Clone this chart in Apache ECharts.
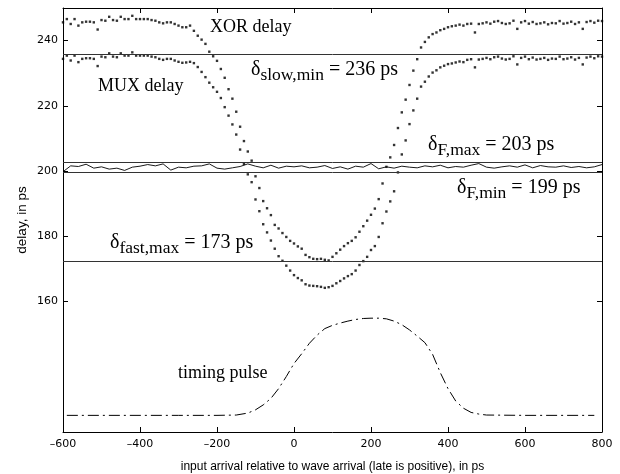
<!DOCTYPE html>
<html>
<head>
<meta charset="utf-8">
<script src="https://cdn.jsdelivr.net/npm/echarts@6/dist/echarts.min.js"></script>
<style>html,body{margin:0;padding:0;background:#fff}#c{width:620px;height:474px}</style>
</head>
<body>
<div id="c"></div>
<script>
// ---- data ----
const xTicks = [-600, -400, -200, 0, 200, 400, 600, 800];
const yTicks = [160, 180, 200, 220, 240];
// delay samples: x grid starts at -600 ps, every 10 ps, up to 800 ps
const sampleStart = -600, sampleStep = 10;
const xorDelay = [
  245.6,246.6,245.1,246.6,244.6,245.6,245.8,245.8,245.6,243.4,
  246.3,246.1,247.3,246.3,246.1,247.3,246.6,246.6,247.6,246.6,
  246.6,246.6,246.6,246.3,246.1,245.6,245.3,245.6,245.6,245.1,
  244.6,244.1,244.1,244.6,243.0,241.5,
  240.3,239.0,236.6,235.2,233.8,231.3,228.6,225.1,222.2,218.2,
  213.6,209.2,206.0,203.2,198.4,194.8,190.8,188.6,186.5,183.5,
  182.4,181.0,179.8,178.6,177.8,176.9,176.2,174.3,173.6,173.1,
  173.0,173.1,172.8,172.6,173.7,174.8,175.9,177.0,177.9,178.6,
  179.7,181.4,183.1,184.8,186.6,188.5,191.4,196.2,201.3,204.2,
  208.0,213.2,218.0,221.9,226.4,230.8,234.3,237.9,239.6,241.0,
  242.0,242.5,243.2,243.6,
  244.1,244.4,244.6,244.9,244.6,245.1,245.2,242.5,245.1,245.3,
  245.6,245.2,245.8,246.0,245.4,245.1,245.3,246.1,243.6,245.6,
  246.0,245.2,245.7,245.1,245.3,245.6,245.0,245.4,245.3,246.0,
  245.2,245.4,245.8,245.1,245.6,243.6,245.7,246.0,245.5,246.1,
  246.0
];
const muxDelay = [
  234.4,235.4,233.9,235.4,233.4,234.4,234.6,234.6,234.4,232.2,
  235.1,234.9,236.1,235.1,234.9,236.1,235.4,235.4,236.4,235.4,
  235.4,235.4,235.4,235.1,234.9,234.4,234.1,234.4,234.4,233.9,
  233.5,233.2,233.3,233.5,233.1,231.9,230.4,228.8,227.1,225.7,
  224.3,222.4,219.6,217.0,214.3,211.2,206.6,202.2,199.0,196.6,
  191.3,187.7,183.7,181.2,178.7,176.2,173.9,172.5,171.0,169.5,
  168.1,167.2,166.5,165.3,164.9,164.8,164.7,164.5,164.2,164.4,
  164.8,165.6,166.3,167.1,167.8,168.4,169.5,171.2,172.4,173.7,
  175.8,177.0,179.8,184.0,187.6,190.7,193.8,199.6,205.1,209.4,
  214.4,218.6,222.2,225.9,227.4,229.0,230.2,230.9,231.8,232.3,
  232.8,233.0,233.3,233.6,233.4,234.1,234.3,231.8,234.2,234.4,
  234.7,234.3,234.9,235.1,234.5,234.2,234.4,235.2,232.7,234.7,
  235.1,234.3,234.8,234.2,234.4,234.7,234.1,234.5,234.4,235.1,
  234.3,234.5,234.9,234.2,234.7,232.7,234.8,235.1,234.6,235.2,
  235.1
];
// F delay trace: from -600 ps every 20 ps
const fStart = -600, fStep = 20;
const fDelay = [
  199.8,201.6,201.4,202.1,200.9,201.3,200.6,200.9,200.2,201.2,
  201.5,202.0,201.6,202.2,200.3,201.2,201.0,201.5,201.6,202.2,
  200.9,200.6,201.0,201.4,202.2,201.5,201.0,201.8,200.9,201.5,
  201.3,201.6,201.0,201.2,201.7,200.8,201.3,200.6,201.5,201.2,
  202.3,200.7,201.3,200.9,201.5,201.2,201.0,201.6,201.3,201.8,
  201.0,201.4,201.2,201.8,202.3,201.2,200.9,201.3,201.6,201.2,
  201.9,201.0,201.7,201.3,201.2,201.6,201.1,201.4,201.0,201.3,
  202.0
];
// timing pulse (x in ps, y in axis units)
const pulseX = [-590,-500,-400,-300,-200,-150,-120,-100,-80,-60,-40,-20,0,20,40,60,80,100,120,140,160,180,200,220,240,260,280,300,320,340,360,380,400,420,440,460,480,500,600,700,780];
const pulseY = [125.1,125.1,125.1,125.1,125.1,125.2,125.8,126.8,128.3,130.3,133.3,137.0,141.0,144.0,147.2,149.7,151.7,152.7,153.4,154.0,154.5,154.8,154.9,154.9,154.7,154.0,152.9,151.3,149.4,147.4,143.8,138.2,133.3,129.5,127.3,126.0,125.5,125.2,125.1,125.1,125.1];
// threshold lines (as drawn)
const thresholds = [235.9, 202.6, 199.6, 172.3];

// ---- build ----
const xorPts = xorDelay.map((v, i) => [sampleStart + i * sampleStep, v]);
const muxPts = muxDelay.map((v, i) => [sampleStart + i * sampleStep, v]);
const fPts = fDelay.map((v, i) => [fStart + i * fStep, v]);
const pulsePts = pulseX.map((x, i) => [x, pulseY[i]]);

const serif = 'Liberation Serif';
const sans = 'DejaVu Sans';
function mathLabel(x, y, sym, sub, rest) {
  return {
    type: 'text', x: x, y: y, silent: true,
    style: {
      text: '{m|' + sym + '}{s|' + sub + '}{m|' + rest + '}',
      verticalAlign: 'top', align: 'left', fill: '#000',
      rich: {
        m: { fontFamily: serif, fontSize: 20, verticalAlign: 'top', fill: '#000' },
        s: { fontFamily: serif, fontSize: 17.5, verticalAlign: 'top', padding: [7, 0, 0, 0], fill: '#000' }
      }
    }
  };
}
function plainLabel(x, y, text) {
  return {
    type: 'text', x: x, y: y, silent: true,
    style: { text: text, fontFamily: serif, fontSize: 18, fill: '#000', verticalAlign: 'middle', align: 'left' }
  };
}

const axisLineStyle = { color: '#000', width: 1 };
const chart = echarts.init(document.getElementById('c'), null, { renderer: 'canvas' });
chart.setOption({
  animation: false,
  backgroundColor: '#fff',
  grid: { left: 63, right: 18, top: 8, bottom: 42, containLabel: false, outerBoundsMode: 'none' },
  xAxis: [{
    type: 'value', min: -600, max: 800, interval: 200,
    axisLine: { onZero: false, lineStyle: axisLineStyle },
    axisTick: { inside: true, length: 5, lineStyle: axisLineStyle },
    axisLabel: { color: '#000', fontFamily: sans, fontSize: 11, margin: 7,
      formatter: v => (v < 0 ? '\u2013' + Math.abs(v) : String(v)) },
    splitLine: { show: false },
    name: 'input arrival relative to wave arrival (late is positive), in ps',
    nameLocation: 'middle', nameGap: 29, nameMoveOverlap: false,
    nameTextStyle: { color: '#000', fontFamily: 'Liberation Sans', fontSize: 12 }
  }, {
    type: 'value', position: 'top', min: -600, max: 800, interval: 200,
    axisLine: { onZero: false, lineStyle: axisLineStyle },
    axisTick: { inside: true, length: 5, lineStyle: axisLineStyle },
    axisLabel: { show: false }, splitLine: { show: false }
  }],
  yAxis: [{
    type: 'value', min: 120, max: 250, interval: 20,
    axisLine: { onZero: false, lineStyle: axisLineStyle },
    axisTick: { inside: true, length: 5, lineStyle: axisLineStyle, customValues: yTicks },
    axisLabel: { color: '#000', fontFamily: sans, fontSize: 11, margin: 5, customValues: yTicks },
    splitLine: { show: false },
    name: 'delay, in ps', nameLocation: 'middle', nameGap: 34, nameMoveOverlap: false,
    nameTextStyle: { color: '#000', fontFamily: 'Liberation Sans', fontSize: 13.5 }
  }, {
    type: 'value', position: 'right', min: 120, max: 250, interval: 20,
    axisLine: { onZero: false, lineStyle: axisLineStyle },
    axisTick: { inside: true, length: 5, lineStyle: axisLineStyle, customValues: yTicks },
    axisLabel: { show: false }, splitLine: { show: false }
  }],
  series: [
    { type: 'scatter', name: 'XOR delay', data: xorPts, symbol: 'rect', symbolSize: 2.4,
      itemStyle: { color: '#000' }, silent: true },
    { type: 'scatter', name: 'MUX delay', data: muxPts, symbol: 'rect', symbolSize: 2.4,
      itemStyle: { color: '#000' }, silent: true },
    { type: 'line', name: 'F delay', data: fPts, symbol: 'none', silent: true,
      lineStyle: { color: '#000', width: 0.9 },
      markLine: {
        silent: true, symbol: 'none', label: { show: false },
        lineStyle: { color: '#333', width: 1, type: 'solid' },
        data: thresholds.map(v => ({ yAxis: v }))
      } },
    { type: 'line', name: 'timing pulse', data: pulsePts, symbol: 'none', silent: true, smooth: false,
      lineStyle: { color: '#000', width: 1, type: [11, 4, 2, 4] } }
  ],
  graphic: [
    plainLabel(210, 27.5, 'XOR delay'),
    plainLabel(98, 86.7, 'MUX delay'),
    plainLabel(178, 373.5, 'timing pulse'),
    mathLabel(251, 59.5, '\u03b4', 'slow,min', ' = 236 ps'),
    mathLabel(428, 134.5, '\u03b4', 'F,max', ' = 203 ps'),
    mathLabel(457, 177.5, '\u03b4', 'F,min', ' = 199 ps'),
    mathLabel(110, 232.5, '\u03b4', 'fast,max', ' = 173 ps')
  ]
});
</script>
</body>
</html>
